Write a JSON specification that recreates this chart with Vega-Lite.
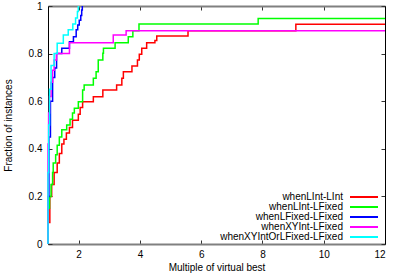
{
  "$schema": "https://vega.github.io/schema/vega-lite/v6.json",
  "width": 337,
  "height": 238,
  "autosize": {"type": "none"},
  "padding": {"left": 48, "top": 6, "right": 8, "bottom": 33},
  "background": "white",
  "config": {
    "view": {"stroke": null},
    "font": "Liberation Sans",
    "axis": {
      "grid": false,
      "labelFont": "Liberation Sans",
      "labelFontSize": 10,
      "labelColor": "#000000",
      "titleFont": "Liberation Sans",
      "titleFontSize": 10,
      "titleFontWeight": "normal",
      "titleColor": "#000000",
      "tickColor": "#333333",
      "tickSize": -4,
      "tickWidth": 1
    },
    "legend": {"labelFont": "Liberation Sans"}
  },
  "datasets": {
    "curves": [
      {"s": "whenLInt-LInt", "x": 1, "y": 0},
      {"s": "whenLInt-LInt", "x": 1, "y": 0.09},
      {"s": "whenLInt-LInt", "x": 1.06, "y": 0.2},
      {"s": "whenLInt-LInt", "x": 1.12, "y": 0.25},
      {"s": "whenLInt-LInt", "x": 1.2, "y": 0.3},
      {"s": "whenLInt-LInt", "x": 1.3, "y": 0.34},
      {"s": "whenLInt-LInt", "x": 1.37, "y": 0.38},
      {"s": "whenLInt-LInt", "x": 1.45, "y": 0.42},
      {"s": "whenLInt-LInt", "x": 1.52, "y": 0.44},
      {"s": "whenLInt-LInt", "x": 1.6, "y": 0.466},
      {"s": "whenLInt-LInt", "x": 1.7, "y": 0.49},
      {"s": "whenLInt-LInt", "x": 1.8, "y": 0.52},
      {"s": "whenLInt-LInt", "x": 1.99, "y": 0.545},
      {"s": "whenLInt-LInt", "x": 2.05, "y": 0.574},
      {"s": "whenLInt-LInt", "x": 2.13, "y": 0.598},
      {"s": "whenLInt-LInt", "x": 2.48, "y": 0.619},
      {"s": "whenLInt-LInt", "x": 2.79, "y": 0.647},
      {"s": "whenLInt-LInt", "x": 3.24, "y": 0.668},
      {"s": "whenLInt-LInt", "x": 3.41, "y": 0.696},
      {"s": "whenLInt-LInt", "x": 3.46, "y": 0.724},
      {"s": "whenLInt-LInt", "x": 3.74, "y": 0.748},
      {"s": "whenLInt-LInt", "x": 3.92, "y": 0.773},
      {"s": "whenLInt-LInt", "x": 3.98, "y": 0.797},
      {"s": "whenLInt-LInt", "x": 4.06, "y": 0.822},
      {"s": "whenLInt-LInt", "x": 4.22, "y": 0.846},
      {"s": "whenLInt-LInt", "x": 4.49, "y": 0.855},
      {"s": "whenLInt-LInt", "x": 4.55, "y": 0.874},
      {"s": "whenLInt-LInt", "x": 5.57, "y": 0.896},
      {"s": "whenLInt-LInt", "x": 9.09, "y": 0.923},
      {"s": "whenLInt-LInt", "x": 12, "y": 0.923},

      {"s": "whenLInt-LFixed", "x": 1, "y": 0},
      {"s": "whenLInt-LFixed", "x": 1, "y": 0.15},
      {"s": "whenLInt-LFixed", "x": 1.05, "y": 0.2},
      {"s": "whenLInt-LFixed", "x": 1.1, "y": 0.25},
      {"s": "whenLInt-LFixed", "x": 1.15, "y": 0.3},
      {"s": "whenLInt-LFixed", "x": 1.17, "y": 0.34},
      {"s": "whenLInt-LFixed", "x": 1.25, "y": 0.375},
      {"s": "whenLInt-LFixed", "x": 1.3, "y": 0.415},
      {"s": "whenLInt-LFixed", "x": 1.37, "y": 0.45},
      {"s": "whenLInt-LFixed", "x": 1.45, "y": 0.48},
      {"s": "whenLInt-LFixed", "x": 1.61, "y": 0.5},
      {"s": "whenLInt-LFixed", "x": 1.72, "y": 0.524},
      {"s": "whenLInt-LFixed", "x": 1.8, "y": 0.55},
      {"s": "whenLInt-LFixed", "x": 1.86, "y": 0.57},
      {"s": "whenLInt-LFixed", "x": 1.99, "y": 0.598},
      {"s": "whenLInt-LFixed", "x": 2.13, "y": 0.647},
      {"s": "whenLInt-LFixed", "x": 2.18, "y": 0.668},
      {"s": "whenLInt-LFixed", "x": 2.48, "y": 0.696},
      {"s": "whenLInt-LFixed", "x": 2.57, "y": 0.724},
      {"s": "whenLInt-LFixed", "x": 2.64, "y": 0.773},
      {"s": "whenLInt-LFixed", "x": 2.79, "y": 0.801},
      {"s": "whenLInt-LFixed", "x": 2.81, "y": 0.822},
      {"s": "whenLInt-LFixed", "x": 3.19, "y": 0.846},
      {"s": "whenLInt-LFixed", "x": 3.62, "y": 0.871},
      {"s": "whenLInt-LFixed", "x": 3.77, "y": 0.896},
      {"s": "whenLInt-LFixed", "x": 3.97, "y": 0.924},
      {"s": "whenLInt-LFixed", "x": 7.86, "y": 0.948},
      {"s": "whenLInt-LFixed", "x": 12, "y": 0.948},

      {"s": "whenLFixed-LFixed", "x": 1, "y": 0},
      {"s": "whenLFixed-LFixed", "x": 1, "y": 0.2},
      {"s": "whenLFixed-LFixed", "x": 1.03, "y": 0.45},
      {"s": "whenLFixed-LFixed", "x": 1.08, "y": 0.6},
      {"s": "whenLFixed-LFixed", "x": 1.15, "y": 0.7},
      {"s": "whenLFixed-LFixed", "x": 1.22, "y": 0.74},
      {"s": "whenLFixed-LFixed", "x": 1.28, "y": 0.8},
      {"s": "whenLFixed-LFixed", "x": 1.45, "y": 0.822},
      {"s": "whenLFixed-LFixed", "x": 1.7, "y": 0.85},
      {"s": "whenLFixed-LFixed", "x": 1.83, "y": 0.871},
      {"s": "whenLFixed-LFixed", "x": 1.92, "y": 0.9},
      {"s": "whenLFixed-LFixed", "x": 1.97, "y": 0.92},
      {"s": "whenLFixed-LFixed", "x": 2.02, "y": 0.94},
      {"s": "whenLFixed-LFixed", "x": 2.07, "y": 0.96},
      {"s": "whenLFixed-LFixed", "x": 2.1, "y": 0.983},
      {"s": "whenLFixed-LFixed", "x": 2.12, "y": 1.0},

      {"s": "whenXYInt-LFixed", "x": 1, "y": 0},
      {"s": "whenXYInt-LFixed", "x": 1, "y": 0.42},
      {"s": "whenXYInt-LFixed", "x": 1.02, "y": 0.55},
      {"s": "whenXYInt-LFixed", "x": 1.05, "y": 0.62},
      {"s": "whenXYInt-LFixed", "x": 1.1, "y": 0.68},
      {"s": "whenXYInt-LFixed", "x": 1.15, "y": 0.73},
      {"s": "whenXYInt-LFixed", "x": 1.2, "y": 0.773},
      {"s": "whenXYInt-LFixed", "x": 1.28, "y": 0.8},
      {"s": "whenXYInt-LFixed", "x": 1.7, "y": 0.846},
      {"s": "whenXYInt-LFixed", "x": 3.13, "y": 0.878},
      {"s": "whenXYInt-LFixed", "x": 3.55, "y": 0.896},
      {"s": "whenXYInt-LFixed", "x": 12, "y": 0.896},

      {"s": "whenXYIntOrLFixed-LFixed", "x": 1, "y": 0},
      {"s": "whenXYIntOrLFixed-LFixed", "x": 1, "y": 0.3},
      {"s": "whenXYIntOrLFixed-LFixed", "x": 1.02, "y": 0.5},
      {"s": "whenXYIntOrLFixed-LFixed", "x": 1.05, "y": 0.65},
      {"s": "whenXYIntOrLFixed-LFixed", "x": 1.1, "y": 0.75},
      {"s": "whenXYIntOrLFixed-LFixed", "x": 1.2, "y": 0.8},
      {"s": "whenXYIntOrLFixed-LFixed", "x": 1.3, "y": 0.843},
      {"s": "whenXYIntOrLFixed-LFixed", "x": 1.5, "y": 0.878},
      {"s": "whenXYIntOrLFixed-LFixed", "x": 1.66, "y": 0.9},
      {"s": "whenXYIntOrLFixed-LFixed", "x": 1.81, "y": 0.924},
      {"s": "whenXYIntOrLFixed-LFixed", "x": 1.9, "y": 0.95},
      {"s": "whenXYIntOrLFixed-LFixed", "x": 1.96, "y": 0.977},
      {"s": "whenXYIntOrLFixed-LFixed", "x": 1.99, "y": 1.0}
    ]
  },
  "data": {"name": "curves"},
  "layer": [
    {
      "mark": {"type": "line", "interpolate": "step-after", "strokeWidth": 1.5},
      "encoding": {
        "x": {
          "field": "x", "type": "quantitative",
          "scale": {"domain": [1, 12], "nice": false, "zero": false},
          "axis": {"orient": "bottom", "values": [2, 4, 6, 8, 10, 12], "title": "Multiple of virtual best",
                   "domainColor": "#808080", "domainWidth": 2, "labelPadding": 9, "titlePadding": 3}
        },
        "y": {
          "field": "y", "type": "quantitative",
          "scale": {"domain": [0, 1], "nice": false, "zero": false},
          "axis": {"orient": "left", "values": [0, 0.2, 0.4, 0.6, 0.8, 1], "format": "~g", "title": "Fraction of instances",
                   "domainColor": "#000000", "domainWidth": 1, "labelPadding": 10, "titlePadding": 15}
        },
        "color": {
          "field": "s", "type": "nominal",
          "scale": {
            "domain": ["whenLInt-LInt", "whenLInt-LFixed", "whenLFixed-LFixed", "whenXYInt-LFixed", "whenXYIntOrLFixed-LFixed"],
            "range": ["#ff0000", "#00ff00", "#0000ff", "#ff00ff", "#00ffff"]
          },
          "legend": {
            "orient": "bottom-right", "title": null, "offset": 2, "padding": 0,
            "labelFontSize": 10, "labelColor": "#000000", "labelAlign": "right", "labelOffset": -26, "labelLimit": 300,
            "symbolType": "M-4.67,0H4.67", "symbolSize": 36, "symbolStrokeWidth": 2, "rowPadding": 0
          }
        }
      }
    },
    {
      "mark": {"type": "line", "opacity": 0},
      "encoding": {
        "x": {
          "field": "x", "type": "quantitative",
          "axis": {"orient": "top", "values": [2, 4, 6, 8, 10, 12], "labels": false, "title": null,
                   "domainColor": "#808080", "domainWidth": 2}
        },
        "y": {
          "field": "y", "type": "quantitative",
          "axis": {"orient": "right", "values": [0, 0.2, 0.4, 0.6, 0.8, 1], "labels": false, "title": null,
                   "domainColor": "#000000", "domainWidth": 1}
        },
        "detail": {"field": "s"}
      }
    }
  ],
  "resolve": {"axis": {"x": "independent", "y": "independent"}}
}
